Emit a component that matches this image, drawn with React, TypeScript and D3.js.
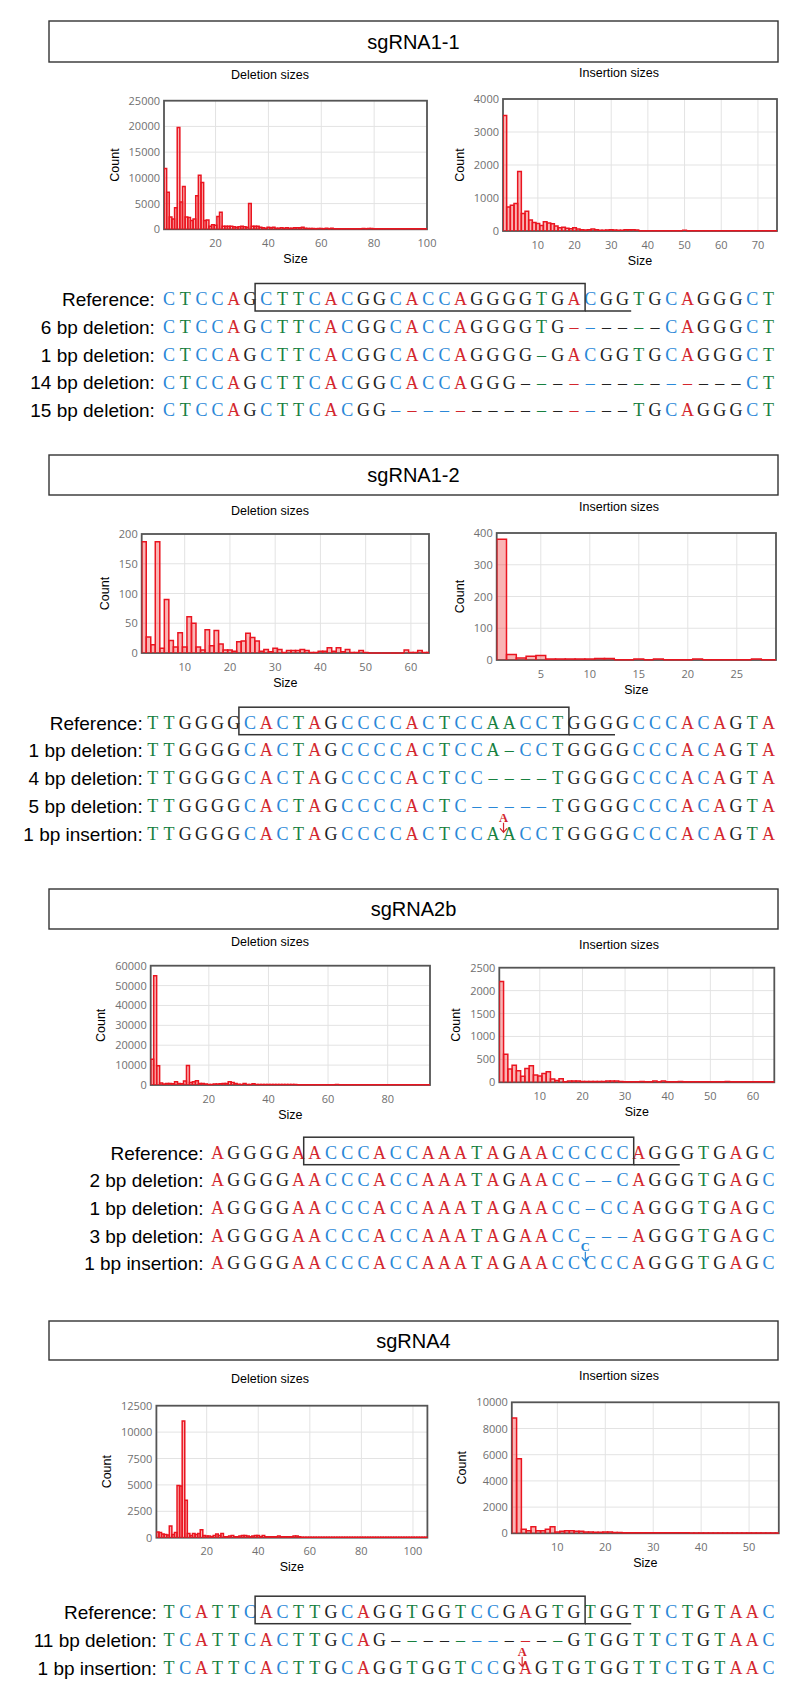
import React, { useEffect, useRef } from "react";
import * as d3 from "d3";

const panelTitles = ["sgRNA1-1", "sgRNA1-2", "sgRNA2b", "sgRNA4"];

// counts per indel size, index 0 = size 1
const del1 = [
  11800, 7200, 2400, 2000, 4200, 19800, 5300, 8300, 2400, 2300,
  1700, 2000, 6500, 10500, 9100, 1700, 1800, 600, 900, 800,
  2500, 3300, 600, 600, 600, 600, 500, 400, 500, 600,
  500, 400, 5000, 600, 600, 600, 400, 300, 200, 400,
  300, 400, 200, 200, 300, 200, 300, 200, 200, 300,
  300, 300, 400, 200, 150, 150, 150, 100, 150, 150,
  100, 200, 100, 200, 100, 100, 100, 100, 100, 100,
  100, 100, 100, 100, 100, 150, 100, 150, 150, 100,
  100, 100, 100, 100, 100, 100, 100, 100, 100, 100,
  100, 100, 100, 100, 100, 100, 100, 100, 100, 100,
];
const ins1 = [
  3500, 730, 780, 830, 1800, 530, 600, 330, 260, 230,
  170, 280, 240, 220, 150, 100, 110, 80, 70, 100,
  60, 40, 30, 40, 60, 40, 20, 20, 30, 40,
  30, 20, 20, 40, 40, 40, 30, 10, 10, 10,
  10, 10, 10, 10, 10, 10, 10, 10, 10, 20,
  10, 10, 10, 10, 10, 10, 10, 10, 10, 10,
  10, 10, 10, 10, 10, 10, 10, 10, 10, 10,
  10, 10, 10, 10, 10,
];
const del2 = [
  187, 27, 14, 187, 8, 90, 21, 10, 34, 10,
  61, 50, 10, 5, 39, 12, 38, 15, 5, 5,
  3, 19, 20, 33, 26, 20, 3, 6, 2, 8,
  6, 1, 4, 4, 4, 6, 4, 1, 1, 3,
  3, 9, 3, 9, 2, 6, 1, 1, 4, 1,
  0, 0, 0, 0, 0, 0, 0, 0, 5, 1,
  1, 4, 1, 1,
];
const ins2 = [
  380, 17, 6, 12, 14, 3, 3, 3, 3, 3,
  5, 5, 1, 1, 3, 1, 3, 1, 1, 1,
  3, 1, 1, 1, 1, 1, 3, 1, 1,
];
const del3 = [
  13000, 55000, 9700, 1000, 500, 700, 800, 600, 1600, 800,
  600, 2000, 9800, 1300, 1600, 2200, 700, 800, 500, 300,
  300, 500, 500, 600, 800, 700, 1600, 1300, 700, 400,
  300, 700, 300, 300, 600, 300, 200, 300, 200, 200,
  200, 200, 200, 200, 200, 200, 300, 300, 200, 100,
  100, 100, 100, 100, 100, 100, 100, 100, 100, 100,
  100, 100, 200, 100, 100, 100, 100, 100, 100, 100,
  100, 100, 100, 100, 100, 100, 100, 100, 100, 100,
  100, 100, 100, 100, 100, 100, 100, 100, 100, 100,
  100, 100, 100, 100,
];
const ins3 = [
  2200, 610, 290, 370, 250, 130, 300, 360, 160, 140,
  190, 230, 70, 40, 80, 10, 30, 30, 30, 20,
  20, 20, 20, 20, 20, 30, 30, 30, 20, 10,
  10, 10, 10, 20, 10, 10, 30, 10, 30, 10,
  10, 10, 20, 10, 10, 10, 10, 10, 10, 10,
  10, 10, 10, 20, 10, 10, 10, 10, 10, 10,
  10, 10, 10, 10, 10,
];
const del4 = [
  550, 500, 350, 300, 250, 1100, 300, 500, 4950, 4900,
  11050, 3550, 400, 200, 400, 300, 400, 750, 200, 150,
  150, 100, 200, 350, 200, 400, 100, 100, 150, 200,
  100, 100, 150, 200, 200, 150, 100, 150, 200, 200,
  100, 200, 100, 100, 100, 100, 100, 150, 100, 100,
  100, 100, 100, 150, 150, 100, 50, 50, 50, 50,
  50, 50, 50, 50, 50, 50, 50, 50, 50, 50,
  50, 50, 50, 50, 50, 50, 50, 50, 50, 50,
  50, 50, 50, 50, 50, 50, 50, 50, 50, 50,
  50, 50, 50, 50, 50, 50, 50, 50, 50, 50,
  50, 50, 50, 50, 50, 50,
];
const ins4 = [
  8800, 5700, 300, 200, 500, 200, 200, 300, 500, 100,
  150, 200, 200, 150, 150, 100, 100, 80, 80, 100,
  100, 60, 60, 50, 50, 50, 50, 50, 40, 40,
  40, 40, 40, 40, 40, 40, 40, 30, 30, 30,
  30, 30, 30, 30, 30, 30, 30, 30, 30, 30,
  30, 30, 30, 30, 30, 30,
];

const delYTicks = [
  [0, 5000, 10000, 15000, 20000, 25000],
  [0, 50, 100, 150, 200],
  [0, 10000, 20000, 30000, 40000, 50000, 60000],
  [0, 2500, 5000, 7500, 10000, 12500],
];
const insYTicks = [
  [0, 1000, 2000, 3000, 4000],
  [0, 100, 200, 300, 400],
  [0, 500, 1000, 1500, 2000, 2500],
  [0, 2000, 4000, 6000, 8000, 10000],
];
const delXTicks = [
  [20, 40, 60, 80, 100],
  [10, 20, 30, 40, 50, 60],
  [20, 40, 60, 80],
  [20, 40, 60, 80, 100],
];
const insXTicks = [
  [10, 20, 30, 40, 50, 60, 70],
  [5, 10, 15, 20, 25],
  [10, 20, 30, 40, 50, 60],
  [10, 20, 30, 40, 50],
];

const labels1 = ["Reference:", "6 bp deletion:", "1 bp deletion:", "14 bp deletion:", "15 bp deletion:"];
const seqs1 = [
  "CTCCAGCTTCACGGCACCAGGGGTGACGGTGCAGGGCT",
  "CTCCAGCTTCACGGCACCAGGGGTG------CAGGGCT",
  "CTCCAGCTTCACGGCACCAGGGG-GACGGTGCAGGGCT",
  "CTCCAGCTTCACGGCACCAGGG--------------CT",
  "CTCCAGCTTCACGG---------------TGCAGGGCT",
];
const labels2 = ["Reference:", "1 bp deletion:", "4 bp deletion:", "5 bp deletion:", "1 bp insertion:"];
const seqs2 = [
  "TTGGGGCACTAGCCCCACTCCAACCTGGGGCCCACAGTA",
  "TTGGGGCACTAGCCCCACTCCA-CCTGGGGCCCACAGTA",
  "TTGGGGCACTAGCCCCACTCC----TGGGGCCCACAGTA",
  "TTGGGGCACTAGCCCCACTC-----TGGGGCCCACAGTA",
  "TTGGGGCACTAGCCCCACTCCAACCTGGGGCCCACAGTA",
];
const labels3 = ["Reference:", "2 bp deletion:", "1 bp deletion:", "3 bp deletion:", "1 bp insertion:"];
const seqs3 = [
  "AGGGGAACCCACCAAATAGAACCCCCAGGGTGAGC",
  "AGGGGAACCCACCAAATAGAACC--CAGGGTGAGC",
  "AGGGGAACCCACCAAATAGAACC-CCAGGGTGAGC",
  "AGGGGAACCCACCAAATAGAACC---AGGGTGAGC",
  "AGGGGAACCCACCAAATAGAACCCCCAGGGTGAGC",
];
const labels4 = ["Reference:", "11 bp deletion:", "1 bp insertion:"];
const seqs4 = [
  "TCATTCACTTGCAGGTGGTCCGAGTGTGGTTCTGTAAC",
  "TCATTCACTTGCAG-----------GTGGTTCTGTAAC",
  "TCATTCACTTGCAGGTGGTCCGAGTGTGGTTCTGTAAC",
];

// [row, position, colour as base letter] where the figure deviates from base colouring
const tints2: [number, number, string][] = [
  [0, 21, "T"], [0, 22, "T"], [1, 21, "T"], [1, 22, "T"],
  [2, 21, "T"], [2, 22, "T"], [2, 23, "T"], [2, 24, "T"],
  [3, 21, "C"], [3, 22, "C"], [4, 21, "T"], [4, 22, "T"],
];
// inserted base: row, position (in cells), base
const insMarks = [null, { row: 4, at: 22.15, base: "A" }, { row: 4, at: 23.2, base: "C" }, { row: 2, at: 22.3, base: "A" }];
const guideBox = [6, 26];
const pamEnd = 29;

const baseColor: Record<string, string> = { A: "#d3262d", C: "#2a88d8", G: "#222222", T: "#17803f" };

const SANS = "'Liberation Sans', Arial, Helvetica, sans-serif";
const SEQ = "'Liberation Serif', 'Times New Roman', serif";
const TICK = "'Open Sans', 'Liberation Sans', sans-serif";

const layout = [
  {
    boxY: 21, boxH: 41,
    del: { x0: 164, x1: 427, y0: 100.7, y1: 229.3, xMax: 100, titleY: 74 },
    ins: { x0: 503, x1: 777, y0: 99, y1: 231, xMax: 75.2, titleY: 72 },
    rows: [299, 327, 355, 382.5, 410], gap: 6,
  },
  {
    boxY: 455, boxH: 40,
    del: { x0: 141.7, x1: 429, y0: 534, y1: 653, xMax: 64, titleY: 510.7 },
    ins: { x0: 496.7, x1: 776, y0: 533, y1: 660, xMax: 29, titleY: 506.7 },
    rows: [722.7, 750, 777.7, 806, 834.3], gap: 2,
  },
  {
    boxY: 889, boxH: 40,
    del: { x0: 150.7, x1: 430, y0: 965.7, y1: 1085, xMax: 94.2, titleY: 941.7 },
    ins: { x0: 499.3, x1: 774.3, y0: 967.7, y1: 1082.3, xMax: 65, titleY: 944 },
    rows: [1152.7, 1180, 1207.7, 1236, 1263.3], gap: 6,
  },
  {
    boxY: 1321, boxH: 39,
    del: { x0: 156.4, x1: 427.4, y0: 1405.7, y1: 1537.7, xMax: 105.6, titleY: 1378 },
    ins: { x0: 511.8, x1: 778.8, y0: 1402.3, y1: 1533.3, xMax: 56.2, titleY: 1375 },
    rows: [1611.7, 1640, 1668.3], gap: 4,
  },
];

const delData = [del1, del2, del3, del4];
const insData = [ins1, ins2, ins3, ins4];
const seqData = [seqs1, seqs2, seqs3, seqs4];
const labelData = [labels1, labels2, labels3, labels4];
const tintData = [[], tints2, [], []];

function drawHist(svg, defs, id, p, data, yTicks, xTicks, title, titleX) {
  const { x0, x1, y0, y1, xMax, titleY } = p;
  const x = d3.scaleLinear().domain([0.5, xMax]).range([x0, x1]);
  const y = d3.scaleLinear().domain([0, yTicks[yTicks.length - 1]]).range([y1, y0]);
  const g = svg.append("g");

  g.append("text")
    .attr("x", titleX).attr("y", titleY + 4.5)
    .attr("text-anchor", "middle")
    .attr("font-family", SANS).attr("font-size", 12.5)
    .text(title);

  // grid
  g.selectAll(null).data(yTicks).join("line")
    .attr("x1", x0).attr("x2", x1)
    .attr("y1", (d) => y(d)).attr("y2", (d) => y(d))
    .attr("stroke", "#e3e3e3").attr("stroke-width", 1);
  g.selectAll(null).data(xTicks).join("line")
    .attr("x1", (d) => x(d)).attr("x2", (d) => x(d))
    .attr("y1", y0).attr("y2", y1)
    .attr("stroke", "#e3e3e3").attr("stroke-width", 1);

  g.append("rect")
    .attr("x", x0).attr("y", y0).attr("width", x1 - x0).attr("height", y1 - y0)
    .attr("fill", "none").attr("stroke", "#555").attr("stroke-width", 1.8);

  defs.append("clipPath").attr("id", id)
    .append("rect")
    .attr("x", x0).attr("y", y0 - 2).attr("width", x1 - x0).attr("height", y1 - y0 + 3);

  g.append("g").attr("clip-path", `url(#${id})`)
    .selectAll("path").data(data).join("path")
    .attr("d", (v, i) => {
      const s = i + 1;
      return `M${x(s - 0.5)},${y1}V${y(v)}H${x(s + 0.5)}V${y1}`;
    })
    .attr("fill", "rgba(240, 40, 40, 0.35)")
    .attr("stroke", "#ea1520").attr("stroke-width", 1.5)
    .attr("stroke-linejoin", "miter");

  // tick labels
  g.selectAll(null).data(yTicks).join("text")
    .attr("x", x0 - 4).attr("y", (d) => y(d) + 4)
    .attr("text-anchor", "end")
    .attr("font-family", TICK).attr("font-size", 11).attr("fill", "#707070")
    .text((d) => d);
  g.selectAll(null).data(xTicks).join("text")
    .attr("x", (d) => x(d)).attr("y", y1 + 17.5)
    .attr("text-anchor", "middle")
    .attr("font-family", TICK).attr("font-size", 11).attr("fill", "#707070")
    .text((d) => d);

  const widest = d3.max(yTicks, (d) => String(d).length) * 6.3;
  const cx = x0 - 4 - widest - 10;
  const cy = (y0 + y1) / 2;
  g.append("text")
    .attr("transform", `translate(${cx},${cy}) rotate(-90)`)
    .attr("text-anchor", "middle")
    .attr("font-family", SANS).attr("font-size", 12.5)
    .text("Count");
  g.append("text")
    .attr("x", (x0 + x1) / 2).attr("y", y1 + 33.5)
    .attr("text-anchor", "middle")
    .attr("font-family", SANS).attr("font-size", 12.5)
    .text("Size");
}

function drawRows(svg, p, seqs, labels, tints, mark) {
  const n = seqs[0].length;
  const pitch = 16.2;
  const right = 776.5;
  const cell = d3.scaleLinear().domain([0, n]).range([right - n * pitch, right]);
  const ref = seqs[0];
  const tintMap = new Map(tints.map(([r, i, b]) => [`${r}-${i}`, b]));
  const g = svg.append("g");

  seqs.forEach((s, r) => {
    const cy = p.rows[r];
    g.append("text")
      .attr("x", cell(0) - p.gap).attr("y", cy + 6.8)
      .attr("text-anchor", "end")
      .attr("font-family", SANS).attr("font-size", 19)
      .text(labels[r]);
    g.selectAll(null).data(s.split("")).join("text")
      .attr("x", (_, i) => cell(i + 0.5)).attr("y", cy + 6)
      .attr("text-anchor", "middle")
      .attr("font-family", SEQ).attr("font-size", 18)
      .attr("fill", (ch, i) => baseColor[tintMap.get(`${r}-${i}`) ?? (ch === "-" ? ref[i] : ch)])
      .text((ch) => (ch === "-" ? "\u2013" : ch));
  });

  const cy0 = p.rows[0];
  g.append("rect")
    .attr("x", cell(guideBox[0]) - 3).attr("y", cy0 - 15.5)
    .attr("width", cell(guideBox[1]) - cell(guideBox[0]) + 6).attr("height", 27.5)
    .attr("fill", "none").attr("stroke", "#333").attr("stroke-width", 1.5);
  g.append("line")
    .attr("x1", cell(guideBox[1]) + 3).attr("x2", cell(pamEnd) + 0.5)
    .attr("y1", cy0 + 12).attr("y2", cy0 + 12)
    .attr("stroke", "#333").attr("stroke-width", 1.5);

  if (mark) {
    const cy = p.rows[mark.row];
    const mx = cell(mark.at);
    const col = baseColor[mark.base];
    g.append("text")
      .attr("x", mx).attr("y", cy - 12.5)
      .attr("text-anchor", "middle")
      .attr("font-family", SEQ).attr("font-size", 12.5).attr("font-weight", "bold")
      .attr("fill", col)
      .text(mark.base);
    g.append("path")
      .attr("d", `M${mx},${cy - 11.5}V${cy - 2}M${mx - 3.5},${cy - 6}L${mx},${cy - 2}L${mx + 3.5},${cy - 6}`)
      .attr("fill", "none").attr("stroke", col).attr("stroke-width", 1.2);
  }
}

const App = () => {
  const ref = useRef(null);

  useEffect(() => {
    const svg = d3.select(ref.current);
    svg.selectAll("*").remove();
    const defs = svg.append("defs");

    layout.forEach((p, k) => {
      svg.append("rect")
        .attr("x", 49).attr("y", p.boxY).attr("width", 729).attr("height", p.boxH)
        .attr("fill", "#fff").attr("stroke", "#333").attr("stroke-width", 1.4);
      svg.append("text")
        .attr("x", 413.5).attr("y", p.boxY + p.boxH / 2 + 7)
        .attr("text-anchor", "middle")
        .attr("font-family", SANS).attr("font-size", 20)
        .text(panelTitles[k]);

      drawHist(svg, defs, `clip-del-${k}`, p.del, delData[k], delYTicks[k], delXTicks[k], "Deletion sizes", 270);
      drawHist(svg, defs, `clip-ins-${k}`, p.ins, insData[k], insYTicks[k], insXTicks[k], "Insertion sizes", 619);
      drawRows(svg, p, seqData[k], labelData[k], tintData[k], insMarks[k]);
    });
  }, []);

  return (
    <svg
      ref={ref}
      width={800}
      height={1696}
      style={{ position: "absolute", left: 0, top: 0, background: "#fff" }}
    ></svg>
  );
};

export default App;
